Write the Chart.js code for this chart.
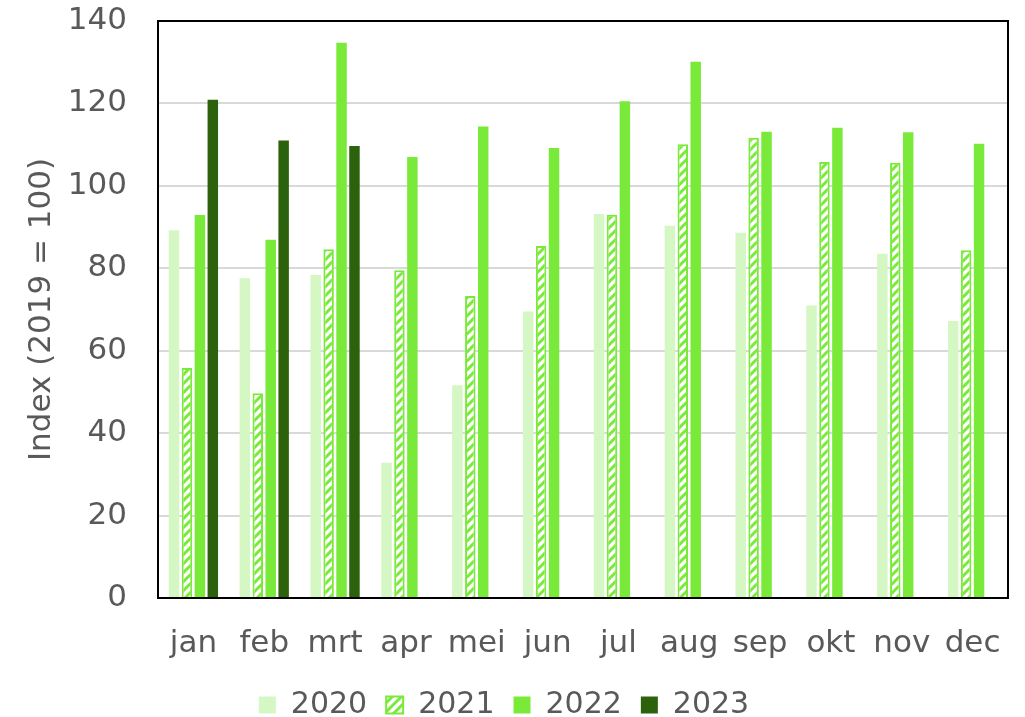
<!DOCTYPE html>
<html>
<head>
<meta charset="utf-8">
<script src="https://cdn.jsdelivr.net/npm/chart.js@4/dist/chart.umd.min.js"></script>
<style>
body { margin: 0; background: #ffffff; }
</style>
</head>
<body>
<canvas id="index_chart" width="1025" height="717"></canvas>

<script>
var maanden = ['jan','feb','mrt','apr','mei','jun','jul','aug','sep','okt','nov','dec'];
var jaren = ['2020','2021','2022','2023'];
var index_2020 = [89.2, 77.6, 78.4, 32.8, 51.6, 69.5, 93.2, 90.3, 88.6, 71.0, 83.5, 67.2];
var index_2021 = [55.8, 49.7, 84.6, 79.5, 73.3, 85.4, 93.0, 110.1, 111.7, 105.8, 105.6, 84.4];
var index_2022 = [92.9, 86.9, 134.7, 107.0, 114.4, 109.2, 120.5, 130.1, 113.1, 114.1, 113.0, 110.2];
var index_2023 = [120.9, 111.0, 109.7, null, null, null, null, null, null, null, null, null];
var y_ticks = [0, 20, 40, 60, 80, 100, 120, 140];
</script>

<script>
var groen = '#7aea3a';
var tekst_kleur = '#595959';
var font_naam = '"DejaVu Sans", Verdana, sans-serif';

// arcering voor 2021
function maak_arcering(kleur){
	var c = document.createElement('canvas');
	c.width = 9;
	c.height = 9;
	var g = c.getContext('2d');
	g.fillStyle = '#ffffff';
	g.fillRect(0, 0, 9, 9);
	g.strokeStyle = kleur;
	g.lineWidth = 3;
	g.beginPath();
	g.moveTo(-1, 10); g.lineTo(10, -1);
	g.moveTo(-2, 2); g.lineTo(2, -2);
	g.moveTo(7, 11); g.lineTo(11, 7);
	g.stroke();
	return g.createPattern(c, 'repeat');
}

// zwarte rand om het plotgebied
var rand_plugin = {
	id: 'rand',
	afterDatasetsDraw: function(chart){
		var a = chart.chartArea;
		var ctx = chart.ctx;
		ctx.save();
		ctx.strokeStyle = '#000000';
		ctx.lineWidth = 2;
		ctx.strokeRect(a.left, a.top, a.right - a.left, a.bottom - a.top);
		ctx.restore();
	}
};

var datasets = [
	{label: jaren[0], data: index_2020, backgroundColor: '#d4f7c3', borderWidth: 0},
	{label: jaren[1], data: index_2021, backgroundColor: maak_arcering(groen), borderColor: groen, borderWidth: 2},
	{label: jaren[2], data: index_2022, backgroundColor: groen, borderWidth: 0},
	{label: jaren[3], data: index_2023, backgroundColor: '#2c620b', borderWidth: 0}
];

var chart_conf = {
	type: 'bar',
	data: {labels: maanden, datasets: datasets},
	options: {
		responsive: false,
		animation: false,
		categoryPercentage: 0.73,
		barPercentage: 0.81,
		layout: {padding: {top: 21, right: 17, bottom: 0, left: 0}},
		plugins: {
			tooltip: {enabled: false},
			legend: {
				position: 'bottom',
				maxHeight: 46,
				labels: {
					boxWidth: 17,
					boxHeight: 17,
					padding: 19,
					color: tekst_kleur,
					font: {family: font_naam, size: 30}
				}
			}
		},
		scales: {
			x: {
				grid: {display: false, drawTicks: false},
				border: {display: false},
				ticks: {color: tekst_kleur, padding: 27, font: {family: font_naam, size: 31}},
				afterFit: function(scale){
					scale.height = 717 - 598 - scale.chart.legend.height;
					scale.paddingLeft = 0;
					scale.paddingRight = 0;
				}
			},
			y: {
				min: 0,
				max: 140,
				afterBuildTicks: function(scale){
					scale.ticks = y_ticks.map(function(v){ return {value: v}; });
				},
				grid: {color: '#d9d9d9', lineWidth: 2, drawTicks: false},
				border: {display: false},
				ticks: {color: tekst_kleur, padding: 31, font: {family: font_naam, size: 31}},
				title: {
					display: true,
					text: 'Index (2019 = 100)',
					color: tekst_kleur,
					padding: {top: 23, bottom: 0},
					font: {family: font_naam, size: 31}
				},
				afterFit: function(scale){
					scale.width = 158;
					scale.paddingTop = 0;
					scale.paddingBottom = 0;
				}
			}
		}
	},
	plugins: [rand_plugin]
};

var chart1 = new Chart(document.getElementById('index_chart'), chart_conf);
</script>
</body>
</html>
